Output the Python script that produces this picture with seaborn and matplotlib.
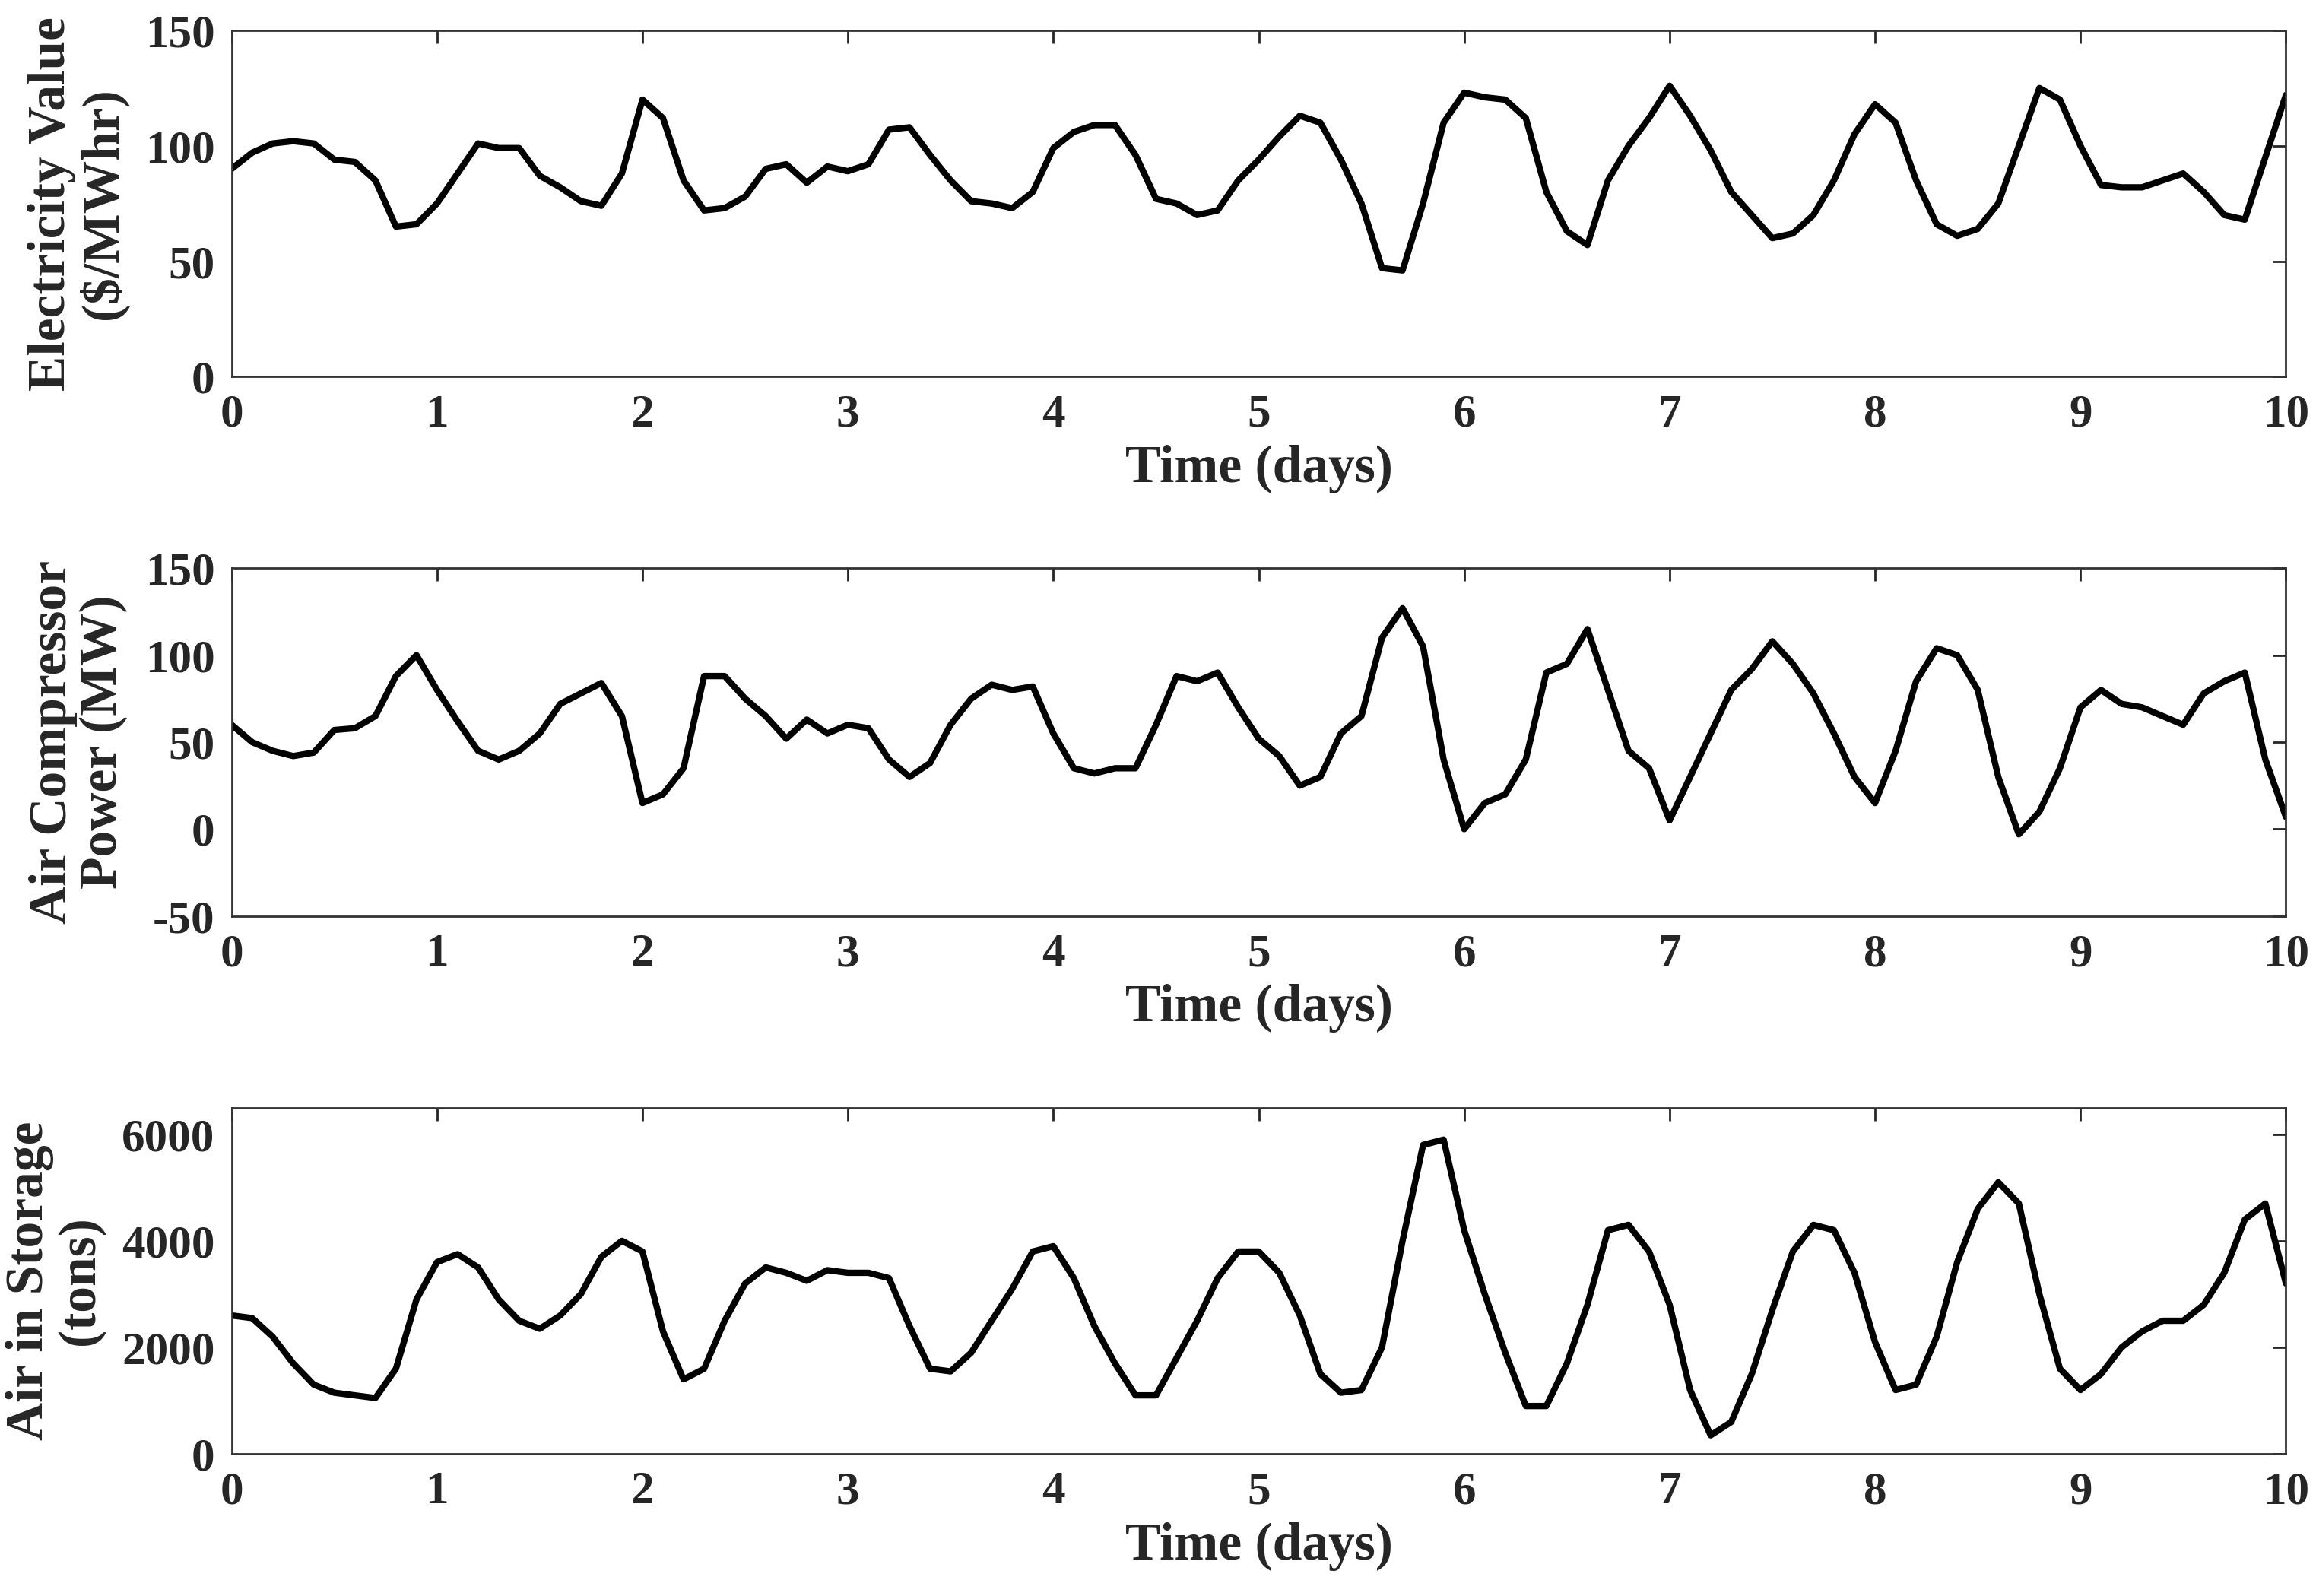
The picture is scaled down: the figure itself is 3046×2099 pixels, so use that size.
import numpy as np
import matplotlib
matplotlib.use("Agg")
import matplotlib.pyplot as plt
import seaborn as sns
import pandas as pd

days = [round(0.1 * i, 1) for i in range(101)]
price = [90,97,101,102,101,94,93,85,65,66,75,88,101,99,99,87,82,76,74,88,120,112,85,72,73,78,90,92,84,91,
         89,92,107,108,96,85,76,75,73,80,99,106,109,109,96,77,75,70,72,85,94,104,113,110,94,75,47,46,75,110,
         123,121,120,112,80,63,57,85,100,112,126,113,98,80,70,60,62,70,85,105,118,110,85,66,61,64,75,100,125,120,
         100,83,82,82,85,88,80,70,68,95,122]
power = [60,50,45,42,44,57,58,65,88,100,80,62,45,40,45,55,72,78,84,65,15,20,35,88,88,75,65,52,63,55,
         60,58,40,30,38,60,75,83,80,82,55,35,32,35,35,60,88,85,90,70,52,42,25,30,55,65,110,127,105,40,
         0,15,20,40,90,95,115,80,45,35,5,30,55,80,92,108,95,78,55,30,15,45,85,104,100,80,30,-3,10,35,
         70,80,72,70,65,60,78,85,90,40,7]
storage = [2600,2550,2200,1700,1300,1150,1100,1050,1600,2900,3600,3750,3500,2900,2500,2350,2600,3000,3700,4000,
           3800,2300,1400,1600,2500,3200,3500,3400,3250,3450,3400,3400,3300,2400,1600,1550,1900,2500,3100,3800,
           3900,3300,2400,1700,1100,1100,1800,2500,3300,3800,3800,3400,2600,1500,1150,1200,2000,4000,5800,5900,
           4200,3000,1900,900,900,1700,2800,4200,4300,3800,2800,1200,350,600,1500,2700,3800,4300,4200,3400,
           2100,1200,1300,2200,3600,4600,5100,4700,3000,1600,1200,1500,2000,2300,2500,2500,2800,3400,4400,4700,3200]

sns.set_theme(style="white")
plt.rcParams['font.family'] = ['Liberation Serif', 'DejaVu Serif']
plt.rcParams['font.weight'] = 'bold'
plt.rcParams['axes.unicode_minus'] = False

df = pd.DataFrame({"t": days, "price": price, "power": power, "storage": storage})
fig = plt.figure(figsize=(15.23, 10.495), dpi=200)
specs = [
    ("price", [0.1, 0.764, 0.887, 0.217], (0, 150), [0, 50, 100, 150], "Electricity Value\n($/MWhr)"),
    ("power", [0.1, 0.426, 0.887, 0.218], (-50, 150), [-50, 0, 50, 100, 150], "Air Compressor\nPower (MW)"),
    ("storage", [0.1, 0.089, 0.887, 0.217], (0, 6500), [0, 2000, 4000, 6000], "Air in Storage\n(tons)"),
]
for col, rect, ylim, yt, lab in specs:
    ax = fig.add_axes(rect)
    sns.lineplot(data=df, x="t", y=col, ax=ax, color="black", linewidth=3.0)
    ax.set_xlim(0, 10)
    ax.set_ylim(*ylim)
    ax.set_xticks(range(11))
    ax.set_yticks(yt)
    ax.tick_params(direction="in", labelsize=22, length=6, top=True, right=True, width=1, pad=8)
    for lb in ax.get_xticklabels() + ax.get_yticklabels():
        lb.set_fontweight("bold")
    for s in ax.spines.values():
        s.set_color("#333333"); s.set_linewidth(1)
    ax.set_xlabel("Time (days)", fontsize=25, fontweight="bold", labelpad=4)
    ax.set_ylabel(lab, fontsize=25, fontweight="bold", linespacing=1.05, labelpad=8)
fig.savefig("out.png", dpi=200)
